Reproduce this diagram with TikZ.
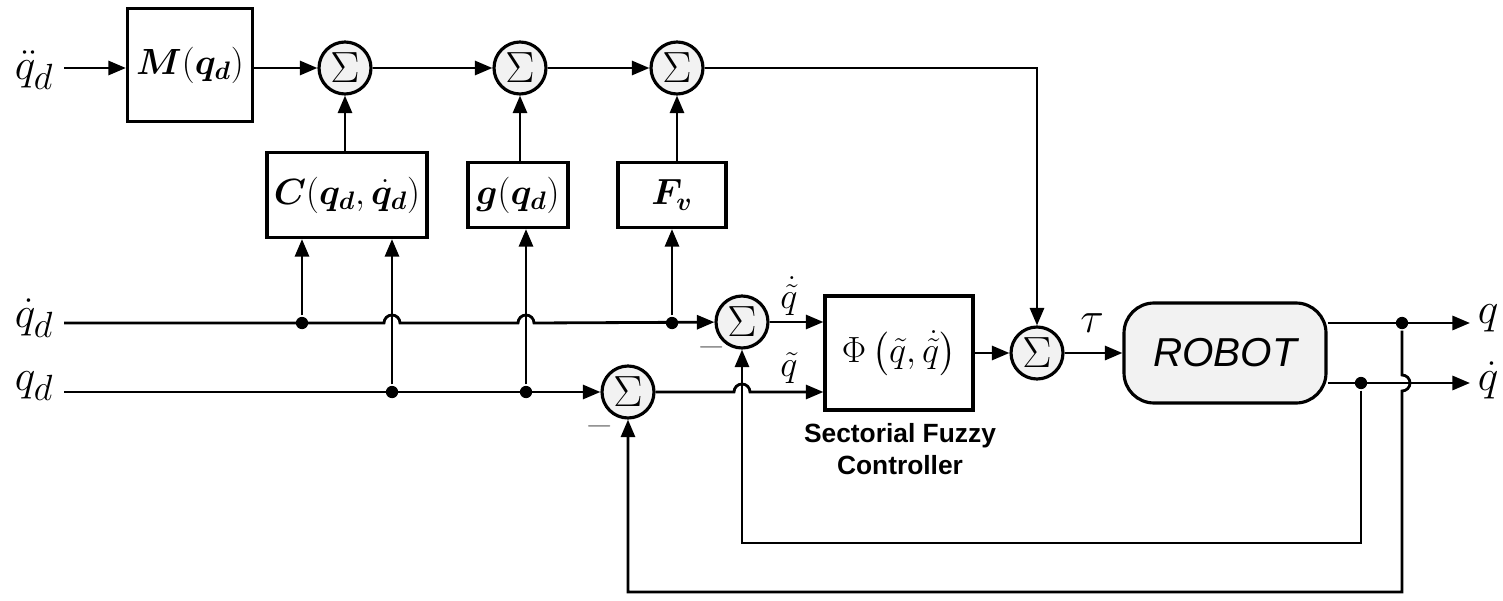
\documentclass[tikz,border=0pt]{standalone}
\usepackage{amsmath,bm}
\usepackage{fontspec}
\newfontfamily\sfx{Liberation Sans}
\usetikzlibrary{arrows.meta,calc}
\begin{document}
\begin{tikzpicture}[x=0.02cm,y=0.02cm,
    line width=1.6pt,
    >={Triangle[length=10pt,width=8pt]},
    blk/.style={draw,line width=1.8pt,inner sep=0pt,font=\fontsize{20}{24}\selectfont},
    sum/.style={draw,line width=1.8pt,circle,fill=gray!10,minimum size=1.04cm,inner sep=0pt,font=\fontsize{30}{34}\selectfont},
    lbl/.style={font=\fontsize{31}{35}\selectfont,inner sep=0pt},
    sml/.style={font=\fontsize{20}{24}\selectfont,inner sep=0pt},
    dot/.style={circle,fill,inner sep=0pt,minimum size=7pt},
    minus/.style={font=\fontsize{22}{26}\selectfont,inner sep=0pt,text=gray}
]
\useasboundingbox (0,0) rectangle (1503,-601);

% inputs
\node[lbl] (qdd) at (34,-70) {$\ddot q_d$};
\node[lbl] (qdi) at (34,-318) {$\dot q_d$};
\node[lbl] (qi)  at (34,-386) {$q_d$};
\coordinate (a0) at (64,-68);
\coordinate (b0) at (64,-323);
\coordinate (c0) at (64,-392);

% blocks
\node[blk,minimum width=2.5cm,minimum height=2.26cm] (M) at (190,-65) {$\bm{M}(\bm{q_d})$};
\node[blk,minimum width=3.2cm,minimum height=1.7cm] (C) at (347,-195) {$\bm{C}(\bm{q_d},\bm{\dot q_d})$};
\node[blk,minimum width=2cm,minimum height=1.3cm] (G) at (518,-195) {$\bm{g}(\bm{q_d})$};
\node[blk,minimum width=2.16cm,minimum height=1.3cm] (F) at (672,-195) {$\bm{F_v}$};
\node[blk,minimum width=2.96cm,minimum height=2.28cm] (P) at (899,-353) {$\Phi\left(\tilde q,\dot{\tilde q}\right)$};
\node[draw,line width=1.8pt,rounded corners=0.6cm,fill=gray!10,minimum width=4.04cm,minimum height=2cm,font=\sfx\itshape\fontsize{23}{27}\selectfont] (R) at (1225,-353) {ROBOT};
\node[font=\sfx\bfseries\fontsize{15}{18}\selectfont,align=center] (SF) at (900,-449) {Sectorial Fuzzy\\Controller};

% sums
\node[sum] (S1) at (345,-68) {$\Sigma$};
\node[sum] (S2) at (520,-68) {$\Sigma$};
\node[sum] (S3) at (677,-68) {$\Sigma$};
\node[sum] (S4) at (742,-322) {$\Sigma$};
\node[sum] (S5) at (628,-392) {$\Sigma$};
\node[sum] (S6) at (1037,-353) {$\Sigma$};
\node[minus] at (712,-347) {$-$};
\node[minus] at (600,-426) {$-$};

% top chain
\draw[->] (a0) -- (a0 -| M.west);
\draw[->] (M.east |- S1) -- (S1);
\draw[->] (S1) -- (S2);
\draw[->] (S2) -- (S3);
\draw[->] (S3) -| (S6);
\draw[->] (C.north -| S1) -- (S1);
\draw[->] (G.north -| S2) -- (S2);
\draw[->] (F.north -| S3) -- (S3);

% qdot_d row with jumps
\coordinate (j1) at (392,-323);
\coordinate (j2) at (526,-323);
\draw[->] (b0) -- ($(j1)+(-8,0)$) arc[start angle=180,end angle=0,radius=0.16cm]
  -- ($(j2)+(-8,0)$) arc[start angle=180,end angle=0,radius=0.16cm] -- (S4);
\node[dot] (d1) at (302,-323) {};
\node[dot] (d2) at (672,-323) {};
\draw[->] (d1) -- (d1 |- C.south);
\draw[->] (d2) -- (d2 |- F.south);

% q_d row
\draw[->] (c0) -- (S5);
\node[dot] (d3) at (392,-392) {};
\node[dot] (d4) at (526,-392) {};
\draw[->] (d3) -- (d3 |- C.south);
\draw[->] (d4) -- (d4 |- G.south);

% into controller
\coordinate (j3) at (742,-392);
\draw[->] (S4) -- (S4 -| P.west);
\node[sml] at (789,-296) {$\dot{\tilde q}$};
\draw[->] (S5) -- ($(j3)+(-8,0)$) arc[start angle=180,end angle=0,radius=0.16cm] -- (S5 -| P.west);
\node[sml] at (789,-368) {$\tilde q$};
\draw[->] (P.east |- S6) -- (S6);
\draw[->] (S6) -- (S6 -| R.west);
\node[lbl] at (1092,-323) {$\tau$};

% outputs
\coordinate (qo) at (1470,-323);
\coordinate (qdo) at (1470,-383);
\node[lbl] (ql) at (1488,-318) {$q$};
\node[lbl] (qdl) at (1488,-380) {$\dot q$};
\draw[->] (R.east |- qo) -- (qo);
\draw[->] (R.east |- qdo) -- (qdo);
\node[dot] (d5) at (1402,-323) {};
\node[dot] (d6) at (1361,-383) {};

% feedback
\draw[->] (d6) -- (1361,-543) -- (742,-543) -- (S4);
\draw[->] (d5) -- (1402,-375) arc[start angle=90,end angle=-90,radius=0.16cm] -- (1402,-592) -- (628,-592) -- (S5);
\end{tikzpicture}
\end{document}
